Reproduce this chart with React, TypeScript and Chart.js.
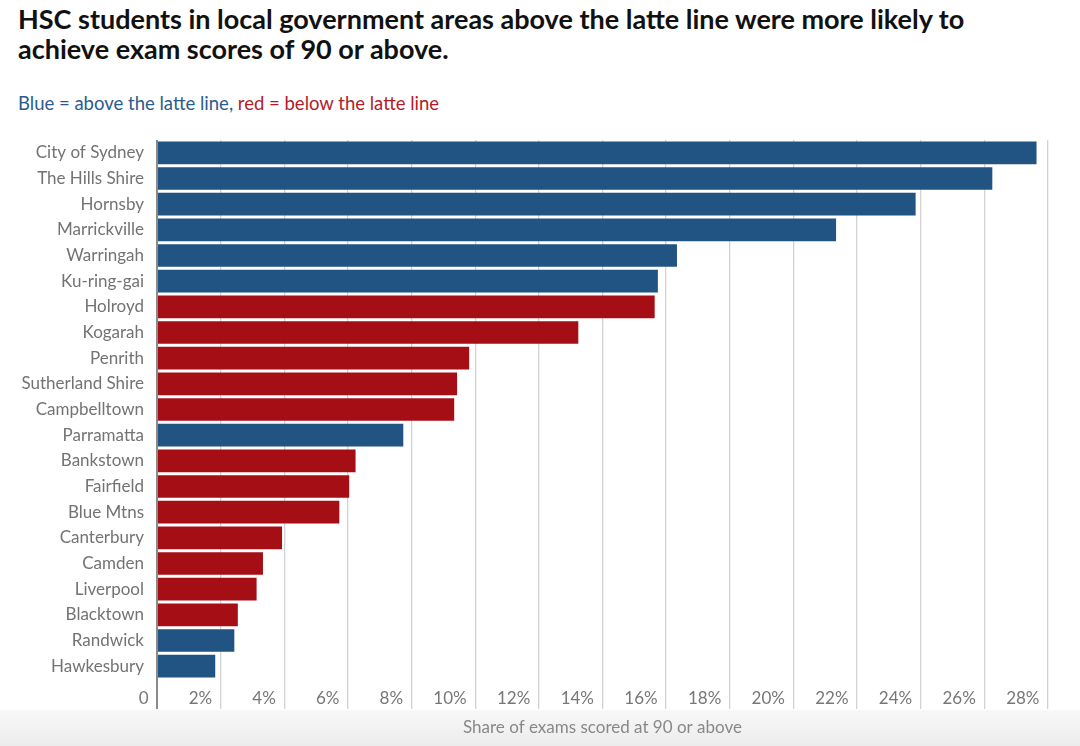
import React, { useEffect, useRef } from 'react';
import { Chart, registerables } from 'chart.js';

Chart.register(...registerables);

const categories = [
  'City of Sydney', 'The Hills Shire', 'Hornsby', 'Marrickville', 'Warringah',
  'Ku-ring-gai', 'Holroyd', 'Kogarah', 'Penrith', 'Sutherland Shire',
  'Campbelltown', 'Parramatta', 'Bankstown', 'Fairfield', 'Blue Mtns',
  'Canterbury', 'Camden', 'Liverpool', 'Blacktown', 'Randwick', 'Hawkesbury',
];

const shareValues = [
  27.64, 26.25, 23.84, 21.34, 16.34,
  15.74, 15.64, 13.24, 9.81, 9.43,
  9.34, 7.74, 6.24, 6.04, 5.73,
  3.93, 3.33, 3.13, 2.54, 2.43, 1.83,
];

const aboveLatteLine = [
  true, true, true, true, true,
  true, false, false, false, false,
  false, true, false, false, false,
  false, false, false, false, true, true,
];

const xTickLabels = ['0', '2%', '4%', '6%', '8%', '10%', '12%', '14%', '16%', '18%', '20%', '22%', '24%', '26%', '28%'];

const BLUE = '#215383';
const RED = '#a60e16';
const FONT = 'Lato, "Noto Sans", sans-serif';

export default function App() {
  const canvasRef = useRef<HTMLCanvasElement | null>(null);

  useEffect(() => {
    const canvas = canvasRef.current;
    if (!canvas) return;
    const chart = new Chart(canvas, {
      type: 'bar',
      data: {
        labels: categories,
        datasets: [
          {
            data: shareValues,
            backgroundColor: aboveLatteLine.map((a) => (a ? BLUE : RED)),
            borderWidth: 0,
            barPercentage: 0.88,
            categoryPercentage: 1,
          },
        ],
      },
      options: {
        indexAxis: 'y',
        responsive: false,
        animation: false,
        layout: { padding: { top: 140, right: 32, left: 0, bottom: 0 } },
        plugins: {
          legend: { display: false },
          tooltip: { enabled: false },
          title: { display: false },
        },
        scales: {
          y: {
            type: 'category',
            grid: { display: false, drawTicks: false },
            border: { display: false },
            ticks: {
              padding: 13,
              color: '#737373',
              font: { family: FONT, size: 17 },
            },
            afterFit: (s: any) => {
              s.width = 157;
            },
          },
          x: {
            type: 'linear',
            min: 0,
            max: 28,
            border: { display: false },
            grid: {
              drawTicks: true,
              tickLength: 30,
              color: (ctx: any) => (ctx.tick && ctx.tick.value === 0 ? '#8a8a8a' : '#d2d2d2'),
              lineWidth: (ctx: any) => (ctx.tick && ctx.tick.value === 0 ? 2 : 1.3),
            },
            ticks: {
              stepSize: 2,
              align: 'end',
              padding: -21,
              color: '#777777',
              font: { family: FONT, size: 17 },
              callback: (_v: any, i: number) => xTickLabels[i] + '\u2002',
            },
            title: {
              display: true,
              text: 'Share of exams scored at 90 or above',
              color: '#888888',
              font: { family: FONT, size: 17 },
              padding: { top: 0, bottom: 8 },
            },
            afterFit: (s: any) => {
              s.height = 67;
            },
          },
        },
      },
    });
    return () => chart.destroy();
  }, []);

  return (
    <div style={{ position: 'absolute', left: 0, top: 0, width: 1080, height: 746, background: '#ffffff', overflow: 'hidden' }}>
      <div style={{ position: 'absolute', left: 0, top: 710, width: 1080, height: 36, background: 'linear-gradient(#f8f8f8, #ececec)' }} />
      <div style={{ position: 'absolute', left: 18, top: 4, fontFamily: FONT, fontWeight: 700, fontSize: 27, lineHeight: '30px', color: '#111111', whiteSpace: 'nowrap' }}>
        <div>HSC students in local government areas above the latte line were more likely to</div>
        <div>achieve exam scores of 90 or above.</div>
      </div>
      <div style={{ position: 'absolute', left: 18, top: 92, fontFamily: FONT, fontSize: 18.5, lineHeight: '22px', whiteSpace: 'nowrap' }}>
        <span style={{ color: '#2b5b8d' }}>Blue = above the latte line, </span>
        <span style={{ color: '#b01c2a' }}>red = below the latte line</span>
      </div>
      <canvas ref={canvasRef} width={1080} height={746} style={{ position: 'absolute', left: 0, top: 0 }} />
    </div>
  );
}
